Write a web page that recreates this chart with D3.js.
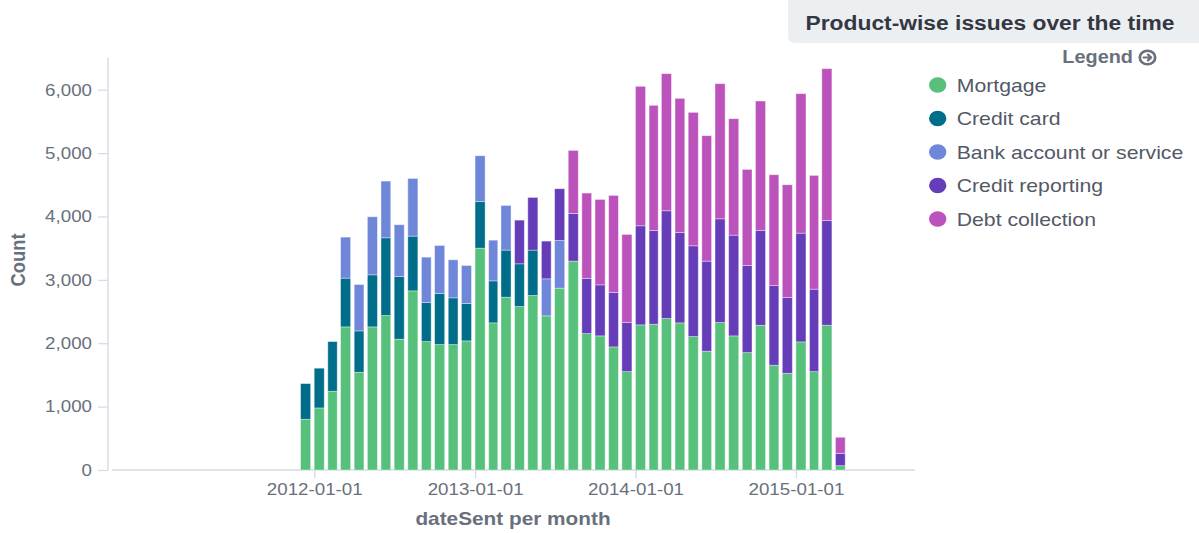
<!DOCTYPE html>
<html>
<head>
<meta charset="utf-8">
<script src="https://cdn.jsdelivr.net/npm/d3@7"></script>
<style>
  html, body { margin: 0; padding: 0; background: #fff; }
  svg { display: block; }
  text { font-family: "Liberation Sans", Arial, Helvetica, sans-serif; }
</style>
</head>
<body>
<svg id="chart"></svg>
<script>
// Monthly buckets, Dec 2011 – Apr 2015
const months = [
  "2011-12","2012-01","2012-02","2012-03","2012-04","2012-05","2012-06","2012-07","2012-08","2012-09","2012-10","2012-11","2012-12",
  "2013-01","2013-02","2013-03","2013-04","2013-05","2013-06","2013-07","2013-08","2013-09","2013-10","2013-11","2013-12",
  "2014-01","2014-02","2014-03","2014-04","2014-05","2014-06","2014-07","2014-08","2014-09","2014-10","2014-11","2014-12",
  "2015-01","2015-02","2015-03","2015-04"
];

const products = ["Mortgage", "Credit card", "Bank account or service", "Credit reporting", "Debt collection"];
const colors = ["#57c17b", "#006e8a", "#6f87d8", "#663db8", "#bc52bc"];

const mortgage = [
  800, 979, 1242, 2258, 1542, 2258, 2437, 2063, 2826, 2026, 1979, 1979, 2037,
  3500, 2321, 2726, 2579, 2753, 2432, 2869, 3295, 2152, 2116, 1942, 1552,
  2290, 2300, 2390, 2321, 2105, 1874, 2326, 2116, 1852, 2284, 1653, 1526,
  2021, 1552, 2284, 68
];
const creditCard = [
  563, 627, 784, 769, 653, 821, 1226, 990, 864, 616, 805, 737, 589,
  737, 663, 743, 674, 716, 0, 0, 0, 0, 0, 0, 0,
  0, 0, 0, 0, 0, 0, 0, 0, 0, 0, 0, 0,
  0, 0, 0, 0
];
const bankAccount = [
  0, 0, 0, 647, 731, 916, 895, 816, 910, 716, 758, 600, 600,
  721, 642, 705, 0, 0, 584, 752, 0, 0, 0, 0, 0,
  0, 0, 0, 0, 0, 0, 0, 0, 0, 0, 0, 0,
  0, 0, 0, 0
];
const creditReporting = [
  0, 0, 0, 0, 0, 0, 0, 0, 0, 0, 0, 0, 0,
  0, 0, 0, 689, 831, 595, 816, 752, 869, 805, 858, 774,
  1563, 1479, 1700, 1426, 1432, 1421, 1637, 1589, 1374, 1495, 1257, 1195,
  1716, 1301, 1653, 195
];
const debtCollection = [
  0, 0, 0, 0, 0, 0, 0, 0, 0, 0, 0, 0, 0,
  0, 0, 0, 0, 0, 0, 0, 995, 1348, 1347, 1532, 1390,
  2200, 1974, 2163, 2116, 2105, 1979, 2132, 1837, 1516, 2042, 1748, 1779,
  2200, 1795, 2395, 253
];

const yTicks = [0, 1000, 2000, 3000, 4000, 5000, 6000];
const xTicks = ["2012-01-01", "2013-01-01", "2014-01-01", "2015-01-01"];

// ---------------------------------------------------------------
const W = 1199, H = 533;
const SX = 1.13;                 // horizontal stretch of the drawing
const vbW = W / SX;
const px = v => v / SX;          // screen x -> drawing units

const svg = d3.select("#chart")
  .attr("width", W).attr("height", H)
  .attr("viewBox", `0 0 ${vbW} ${H}`)
  .attr("preserveAspectRatio", "none");

const parseMonth = d3.utcParse("%Y-%m");
const parseDay = d3.utcParse("%Y-%m-%d");

const rows = months.map((m, i) => ({
  date: parseMonth(m),
  "Mortgage": mortgage[i],
  "Credit card": creditCard[i],
  "Bank account or service": bankAccount[i],
  "Credit reporting": creditReporting[i],
  "Debt collection": debtCollection[i]
}));

const x = d3.scaleUtc()
  .domain([parseDay("2010-09-28"), parseDay("2015-09-29")])
  .range([px(112), px(915)]);

const y = d3.scaleLinear().domain([0, 6500]).range([470, 58]);

const color = d3.scaleOrdinal().domain(products).range(colors);

const stacked = d3.stack().keys(products)(rows);

const gray = "#69707d";
const axisCol = "#d3dae6";

// y axis
const yAxisX = px(108);
svg.append("line")
  .attr("x1", yAxisX).attr("x2", yAxisX)
  .attr("y1", 58).attr("y2", 470)
  .attr("stroke", axisCol).attr("stroke-width", 1.2);

const yg = svg.append("g").attr("transform", `translate(${yAxisX},0)`)
  .call(d3.axisLeft(y).tickValues(yTicks).tickFormat(d3.format(",")).tickSize(px(10)).tickPadding(px(6)));
yg.select(".domain").remove();
yg.selectAll(".tick line").attr("stroke", axisCol).attr("stroke-width", 1.2);
yg.selectAll(".tick text").attr("fill", gray).attr("font-size", 16.6);

// x axis
svg.append("line")
  .attr("x1", px(112)).attr("x2", px(915))
  .attr("y1", 470).attr("y2", 470)
  .attr("stroke", axisCol).attr("stroke-width", 1.5);

const xg = svg.append("g").attr("transform", "translate(0,470)")
  .call(d3.axisBottom(x).tickValues(xTicks.map(parseDay)).tickFormat(d3.utcFormat("%Y-%m-%d")).tickSize(8).tickPadding(5));
xg.select(".domain").remove();
xg.selectAll(".tick line").attr("stroke", axisCol).attr("stroke-width", 1.2);
xg.selectAll(".tick text").attr("fill", gray).attr("font-size", 16.6);

// stacked bars
const barW = d => {
  const next = d3.utcMonth.offset(d, 1);
  return (x(next) - x(d)) * 0.74;
};

svg.append("g").selectAll("g")
  .data(stacked).join("g")
  .attr("fill", s => color(s.key))
  .selectAll("rect")
  .data(s => s.filter(p => p[1] - p[0] > 0))
  .join("rect")
  .attr("x", p => x(p.data.date))
  .attr("width", p => barW(p.data.date))
  .attr("y", p => y(p[1]))
  .attr("height", p => y(p[0]) - y(p[1]))
  .attr("stroke", "rgba(255,255,255,0.45)")
  .attr("stroke-width", 0.8);

// axis titles
svg.append("text")
  .attr("transform", `translate(${px(25)},260) rotate(-90)`)
  .attr("text-anchor", "middle")
  .attr("fill", gray).attr("font-weight", "bold").attr("font-size", 18.4)
  .text("Count");

svg.append("text")
  .attr("x", px(513)).attr("y", 525)
  .attr("text-anchor", "middle")
  .attr("fill", gray).attr("font-weight", "bold").attr("font-size", 18.4)
  .text("dateSent per month");

// title panel
svg.append("rect")
  .attr("x", px(788)).attr("y", -8)
  .attr("width", vbW - px(788) + 10).attr("height", 51)
  .attr("rx", 6).attr("fill", "#eceff1");

svg.append("text")
  .attr("x", px(990)).attr("y", 30)
  .attr("text-anchor", "middle")
  .attr("fill", "#343741").attr("font-weight", "bold").attr("font-size", 20.2)
  .text("Product-wise issues over the time");

// legend header
svg.append("text")
  .attr("x", px(1133)).attr("y", 63.5)
  .attr("text-anchor", "end")
  .attr("fill", gray).attr("font-weight", "bold").attr("font-size", 17.6)
  .text("Legend");

const icon = svg.append("g").attr("transform", `translate(${px(1147.5)},57.5)`);
icon.append("circle").attr("r", 6.8).attr("fill", "none").attr("stroke", gray).attr("stroke-width", 2.4);
icon.append("path")
  .attr("d", "M-3.4,0 H3 M0.4,-3 L3.2,0 L0.4,3")
  .attr("fill", "none").attr("stroke", gray).attr("stroke-width", 2.1)
  .attr("stroke-linecap", "round").attr("stroke-linejoin", "round");

// legend items
const legend = svg.append("g");
const item = legend.selectAll("g")
  .data(products).join("g")
  .attr("transform", (d, i) => `translate(${px(937.7)},${85 + i * 33.5})`);
item.append("circle").attr("r", 7.7).attr("fill", d => color(d));
item.append("text")
  .attr("x", px(956.7) - px(937.7)).attr("y", 0)
  .attr("dy", "0.35em")
  .attr("fill", "#535966").attr("font-size", 18.8)
  .text(d => d);
</script>
</body>
</html>
